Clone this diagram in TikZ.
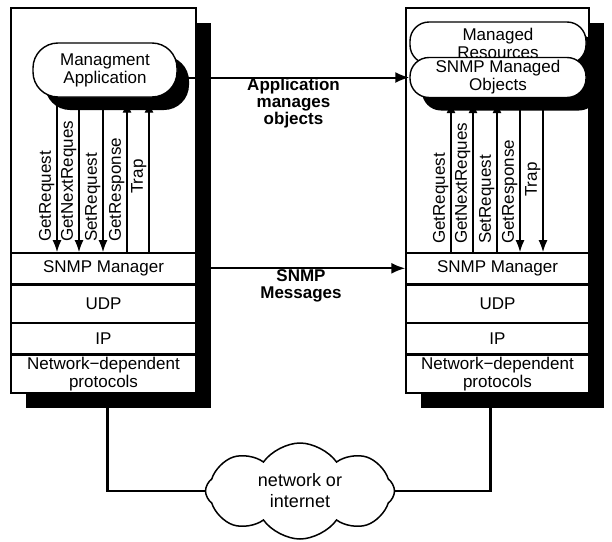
\documentclass[tikz,border=0pt]{standalone}
\usepackage{fontspec}
\setmainfont{Liberation Sans}
\usetikzlibrary{positioning,shadows,shapes.symbols,arrows.meta}

\begin{document}
\begin{tikzpicture}[x=1pt,y=-1pt,
    font=\fontsize{17}{18}\selectfont,
    >={Latex[length=12pt,width=9pt]},
    hostbox/.style={draw,line width=1.4pt,fill=white,inner sep=0pt,
      drop shadow={shadow xshift=15pt,shadow yshift=-15pt,fill=black,opacity=1}},
    layer/.style={draw,line width=1.4pt,fill=white,inner sep=0pt,align=center},
    pill/.style={draw,line width=1.4pt,fill=white,inner sep=0pt,align=center,rounded corners=19pt,
      drop shadow={shadow xshift=12pt,shadow yshift=-13pt,fill=black,opacity=1}},
    sig/.style={line width=1.3pt,->},
    siglabel/.style={rotate=90,anchor=south west,inner sep=1pt},
    msg/.style={line width=2pt,-{Latex[length=14pt,width=11pt]}},
    msglabel/.style={below,inner sep=0pt,align=center,font=\fontsize{17}{17}\selectfont\bfseries},
    link/.style={line width=2.5pt}]

\useasboundingbox (0,0) rectangle (612,541);

% protocol stacks of manager and agent
\foreach \h/\cx/\w in {A/103.5/185,B/497.5/183}{
  \node[hostbox,minimum width=\w pt,minimum height=385pt] (host\h) at (\cx,200.5) {};
  \node[layer,minimum width=\w pt,minimum height=38pt,anchor=south] (ndp\h) at (host\h.south) {Network−dependent\\protocols};
  \node[layer,minimum width=\w pt,minimum height=30pt,above=0pt of ndp\h] (ip\h) {IP};
  \node[layer,minimum width=\w pt,minimum height=37pt,above=0pt of ip\h] (udp\h) {UDP};
  \node[layer,minimum width=\w pt,minimum height=31pt,above=0pt of udp\h] (mgr\h) {SNMP Manager};
}

\node[pill,minimum width=144pt,minimum height=54pt,rounded corners=25pt] (app) at (105,70) {Managment\\Application};
\node[pill,minimum width=176pt,minimum height=42pt] (res) at (498,43) {Managed\\Resources};
\node[pill,minimum width=176pt,minimum height=40pt] (objs) at (498,77.5) {SNMP Managed\\Objects};

\coordinate (tapA) at ([yshift=-3pt]app.south);
\coordinate (tapB) at ([yshift=-3pt]objs.south);

% PDUs between application and manager
\foreach \x/\txt/\y/\from/\to [count=\i] in {
    57/GetRequest/243/tapA/mgrA.north,
    79/GetNextReques/243/tapA/mgrA.north,
    103/SetRequest/243/tapA/mgrA.north,
    127/GetResponse/243/mgrA.north/tapA,
    149/Trap/195/mgrA.north/tapA}{
  \draw[sig] (\x,0 |- \from) -- (\x,0 |- \to);
  \node[siglabel] (sigA\i) at (\x-1.5,\y) {\txt};
}
\foreach \x/\txt/\y/\from/\to [count=\i] in {
    451/GetRequest/245/mgrB.north/tapB,
    473/GetNextReques/245/mgrB.north/tapB,
    497/SetRequest/245/mgrB.north/tapB,
    520/GetResponse/245/tapB/mgrB.north,
    543/Trap/198/tapB/mgrB.north}{
  \draw[sig] (\x,0 |- \from) -- (\x,0 |- \to);
  \node[siglabel] (sigB\i) at (\x-1.5,\y) {\txt};
}

\draw[msg] (app.east |- objs.west) -- node[msglabel] (lblapp) {Application\\manages\\objects} (objs.west);
\draw[msg] (mgrA.east) -- node[msglabel] (lblsnmp) {SNMP\\Messages} (mgrB.west);

\node[cloud,draw,fill=white,line width=1.5pt,cloud puffs=8,cloud puff arc=110,aspect=2,
  minimum width=189pt,minimum height=96pt,inner sep=0pt,align=center,
  font=\fontsize{18}{21}\selectfont] (net) at (300,491) {network or\\internet};

\draw[link] ([xshift=4pt]hostA.south) |- (net.west);
\draw[link] ([xshift=-7pt]hostB.south) |- (net.east);
\end{tikzpicture}
\end{document}
